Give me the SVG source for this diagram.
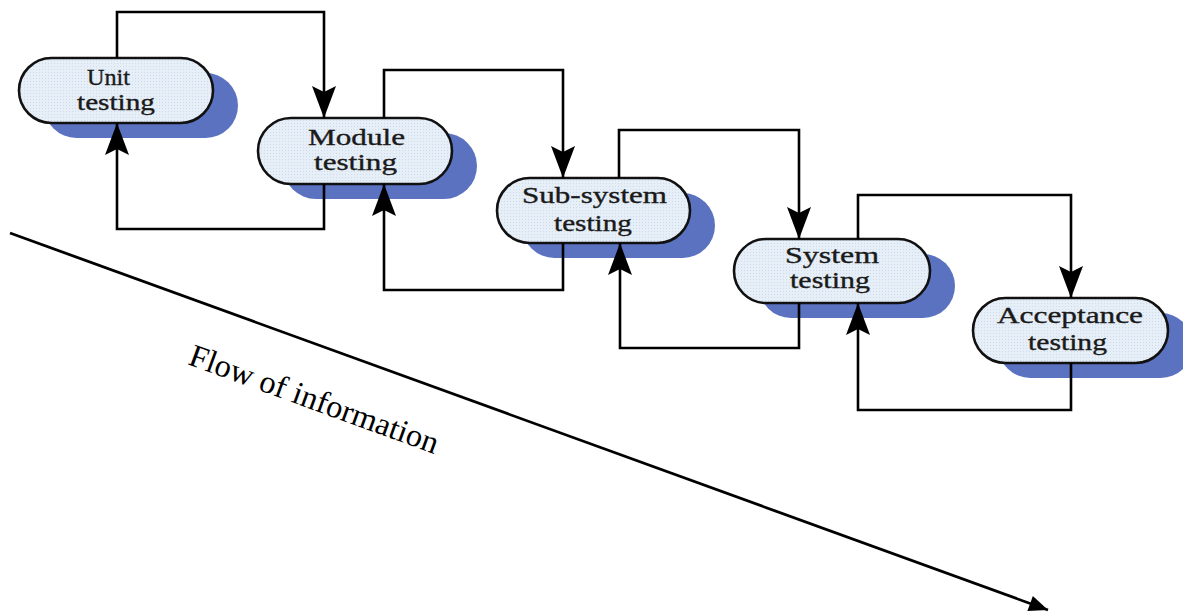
<svg xmlns="http://www.w3.org/2000/svg" width="1183" height="616" viewBox="0 0 1183 616">
  <style>
    .shadow { fill: #5a72c0; }
    .pill { fill: url(#dots); stroke: #111; stroke-width: 2.6; }
    .label { font-family: "Liberation Serif", "Times New Roman", serif; font-size: 23px; fill: #1a1a1a; stroke: #1a1a1a; stroke-width: 0.35; }
    .wire { fill: none; stroke: #000; stroke-width: 2.6; marker-end: url(#dart); }
    .flow { fill: none; stroke: #000; stroke-width: 2.8; marker-end: url(#tri); }
    .flowtext { font-family: "Liberation Serif", "Times New Roman", serif; font-size: 32px; fill: #000; }
  </style>
  <defs>
    <!-- fine dotted fill used inside the stage pills -->
    <pattern id="dots" width="3" height="3" patternUnits="userSpaceOnUse">
      <rect width="3" height="3" fill="#e6eef7"/>
      <rect width="1" height="1" fill="#cfdbe9"/>
    </pattern>
    <marker id="dart" viewBox="-34 -14 36 28" markerWidth="36" markerHeight="28" refX="0" refY="0" orient="auto" markerUnits="userSpaceOnUse">
      <path d="M0,0 L-32,-12 L-26,0 L-32,12 Z" fill="#000"/>
    </marker>
    <marker id="tri" viewBox="-20 -9 22 18" markerWidth="22" markerHeight="18" refX="0" refY="0" orient="auto" markerUnits="userSpaceOnUse">
      <path d="M0,0 L-19,-8 L-19,8 Z" fill="#000"/>
    </marker>
  </defs>

  <rect width="1183" height="616" fill="#fff"/>

  <!-- testing stages -->
  <g id="unit-testing">
    <rect class="shadow" x="44" y="73" width="194" height="65" rx="32.5"/>
    <rect class="pill" x="19" y="58" width="194" height="65" rx="32.5"/>
    <text class="label" x="87" y="85" textLength="43" lengthAdjust="spacingAndGlyphs">Unit</text>
    <text class="label" x="77" y="110" textLength="78" lengthAdjust="spacingAndGlyphs">testing</text>
  </g>
  <g id="module-testing">
    <rect class="shadow" x="283" y="133" width="194" height="66" rx="33"/>
    <rect class="pill" x="258" y="118" width="194" height="66" rx="33"/>
    <text class="label" x="308" y="145" textLength="97" lengthAdjust="spacingAndGlyphs">Module</text>
    <text class="label" x="314" y="170" textLength="83" lengthAdjust="spacingAndGlyphs">testing</text>
  </g>
  <g id="subsystem-testing">
    <rect class="shadow" x="522" y="193" width="193" height="65" rx="32.5"/>
    <rect class="pill" x="497" y="178" width="193" height="65" rx="32.5"/>
    <text class="label" x="522" y="203" textLength="145" lengthAdjust="spacingAndGlyphs">Sub-system</text>
    <text class="label" x="554" y="231" textLength="78" lengthAdjust="spacingAndGlyphs">testing</text>
  </g>
  <g id="system-testing">
    <rect class="shadow" x="759" y="254" width="196" height="64" rx="32"/>
    <rect class="pill" x="734" y="239" width="196" height="64" rx="32"/>
    <text class="label" x="785" y="263" textLength="94" lengthAdjust="spacingAndGlyphs">System</text>
    <text class="label" x="790" y="288" textLength="80" lengthAdjust="spacingAndGlyphs">testing</text>
  </g>
  <g id="acceptance-testing">
    <rect class="shadow" x="998" y="313" width="195" height="65" rx="32.5"/>
    <rect class="pill" x="973" y="298" width="195" height="65" rx="32.5"/>
    <text class="label" x="997" y="323" textLength="146" lengthAdjust="spacingAndGlyphs">Acceptance</text>
    <text class="label" x="1028" y="350" textLength="79" lengthAdjust="spacingAndGlyphs">testing</text>
  </g>

  <!-- forward hand-offs and feedback loops between stages -->
  <g id="connectors">
    <path class="wire" d="M117,58 V12 H324 V118"/>
    <path class="wire" d="M324,184 V229 H117 V123"/>
    <path class="wire" d="M384,118 V70 H563 V178"/>
    <path class="wire" d="M563,243 V290 H384 V184"/>
    <path class="wire" d="M619,178 V130 H799 V239"/>
    <path class="wire" d="M799,303 V348 H620 V243"/>
    <path class="wire" d="M858,239 V195 H1071 V298"/>
    <path class="wire" d="M1071,363 V410 H858 V303"/>
  </g>

  <!-- overall direction -->
  <g id="flow-of-information">
    <path class="flow" d="M10,233 L1048,610"/>
    <text class="flowtext" x="187" y="364" transform="rotate(20 187 364)" textLength="263" lengthAdjust="spacingAndGlyphs">Flow of information</text>
  </g>
</svg>
